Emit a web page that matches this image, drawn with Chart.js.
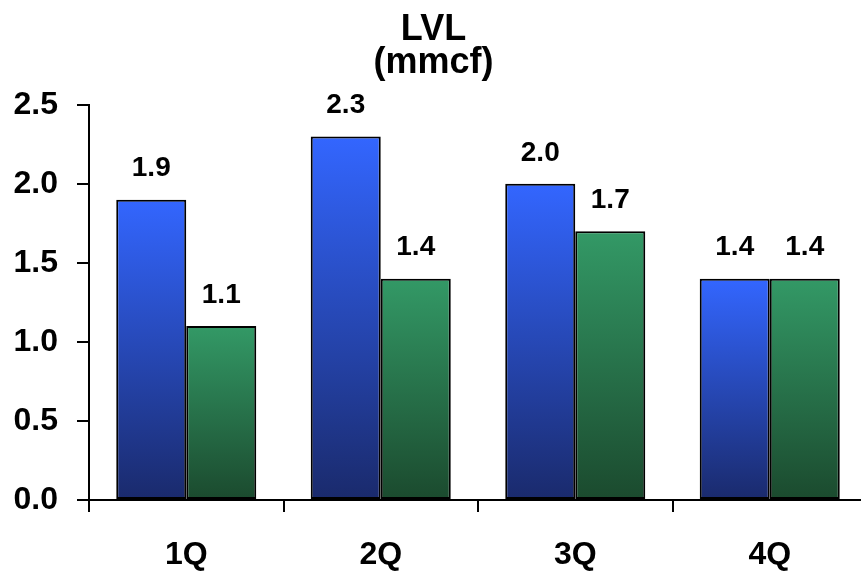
<!DOCTYPE html>
<html>
<head>
<meta charset="utf-8">
<title>LVL (mmcf)</title>
<script src="https://cdn.jsdelivr.net/npm/chart.js@4.4.1/dist/chart.umd.min.js"></script>
<style>
  html, body { margin: 0; padding: 0; overflow: hidden; background: #ffffff; }
  canvas { display: block; }
</style>
</head>
<body>
<!-- plot area runs a few pixels past the right window edge -->
<canvas id="chart" width="867" height="574" style="width:867px;height:574px"></canvas>
<script>
// Quarterly LVL volumes (mmcf), two series per quarter
const quarters = ['1Q', '2Q', '3Q', '4Q'];
const seriesA = [1.9, 2.3, 2.0, 1.4];
const seriesB = [1.1, 1.4, 1.7, 1.4];
const yTicks = [0.0, 0.5, 1.0, 1.5, 2.0, 2.5];

const FONT = "'Liberation Sans', Arial, sans-serif";

// Vertical gradient running from the top of each bar down to its base
function barGradient(topColor, bottomColor) {
  return function (ctx) {
    const chart = ctx.chart;
    const yScale = chart.scales.y;
    if (!chart.chartArea || !yScale || ctx.raw === undefined) return topColor;
    const top = yScale.getPixelForValue(ctx.raw);
    const base = yScale.getPixelForValue(0);
    if (!isFinite(top) || !isFinite(base) || top === base) return topColor;
    const g = chart.ctx.createLinearGradient(0, top, 0, base);
    g.addColorStop(0, topColor);
    g.addColorStop(1, bottomColor);
    return g;
  };
}

// Value labels above every bar
const valueLabels = {
  id: 'valueLabels',
  afterDatasetsDraw(chart) {
    const c = chart.ctx;
    c.save();
    c.font = 'bold 28px ' + FONT;
    c.fillStyle = '#000000';
    c.textAlign = 'center';
    c.textBaseline = 'middle';
    chart.data.datasets.forEach((ds, i) => {
      chart.getDatasetMeta(i).data.forEach((bar, j) => {
        c.fillText(ds.data[j].toFixed(1), bar.x, bar.y - 31);
      });
    });
    c.restore();
  }
};

new Chart(document.getElementById('chart'), {
  type: 'bar',
  data: {
    labels: quarters,
    datasets: [
      {
        label: 'A',
        data: seriesA,
        backgroundColor: barGradient('#3366ff', '#1a2a6c'),
        borderColor: '#000000',
        borderWidth: 2,
        borderSkipped: false,
        categoryPercentage: 0.72,
        barPercentage: 1.0
      },
      {
        label: 'B',
        data: seriesB,
        backgroundColor: barGradient('#339966', '#1b4a2e'),
        borderColor: '#000000',
        borderWidth: 2,
        borderSkipped: false,
        categoryPercentage: 0.72,
        barPercentage: 1.0
      }
    ]
  },
  options: {
    responsive: false,
    animation: false,
    devicePixelRatio: 1,
    layout: { padding: { top: 0, right: 0, bottom: 0, left: 0 } },
    plugins: {
      legend: { display: false },
      tooltip: { enabled: false },
      title: {
        display: true,
        text: ['LVL', '(mmcf)'],
        color: '#000000',
        font: { family: FONT, size: 36, weight: 'bold', lineHeight: 0.9 },
        padding: { top: 14, bottom: 26 }
      }
    },
    scales: {
      x: {
        afterFit(scale) { scale.height = 74; },
        border: { display: true, color: '#000000', width: 2 },
        grid: {
          display: true,
          offset: true,
          drawOnChartArea: false,
          drawTicks: true,
          tickLength: 12,
          color: '#000000',
          lineWidth: 2
        },
        ticks: {
          color: '#000000',
          padding: 24,
          font: { family: FONT, size: 32, weight: 'bold' }
        }
      },
      y: {
        min: 0,
        max: 2.5,
        afterFit(scale) { scale.width = 89; },
        afterBuildTicks(scale) { scale.ticks = yTicks.map(v => ({ value: v })); },
        border: { display: true, color: '#000000', width: 2 },
        grid: {
          display: true,
          drawOnChartArea: false,
          drawTicks: true,
          tickLength: 12,
          color: '#000000',
          lineWidth: 2
        },
        ticks: {
          color: '#000000',
          padding: 19,
          font: { family: FONT, size: 32, weight: 'bold' },
          callback: v => Number(v).toFixed(1)
        }
      }
    }
  },
  plugins: [valueLabels]
});
</script>
</body>
</html>
